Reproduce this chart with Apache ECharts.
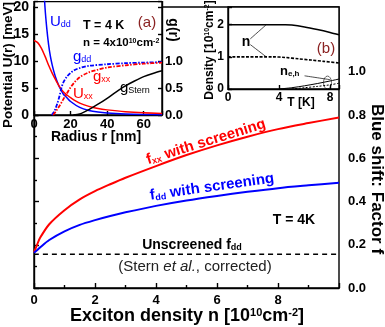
<!DOCTYPE html>
<html>
<head>
<meta charset="utf-8">
<script src="https://cdn.jsdelivr.net/npm/echarts@6/dist/echarts.min.js"></script>
<style>
html, body { margin: 0; padding: 0; background: #fff; }
#chart { width: 385px; height: 327px; }
</style>
</head>
<body>
<div id="chart"></div>
<script>
var FONT = '"Liberation Sans", Arial, Helvetica, sans-serif';
var RED = '#ff0000', BLUE = '#0000ff', DRED = '#8b2222';

// main panel: blue shift factor f vs exciton density n (1e10 cm^-2)
var nMain = [0, 0.1, 0.2, 0.5, 1, 1.5, 2, 2.5, 3, 4, 5, 6, 7, 8, 9, 10];
var fxx = [0.165, 0.2, 0.232, 0.295, 0.36, 0.41, 0.448, 0.48, 0.51, 0.564, 0.615, 0.66, 0.70, 0.735, 0.763, 0.789];
var fdd = [0.163, 0.175, 0.188, 0.222, 0.262, 0.292, 0.314, 0.333, 0.35, 0.38, 0.405, 0.426, 0.445, 0.462, 0.475, 0.487];
var nFlat = [0, 10];
var fUnscreened = [0.156, 0.156];

// inset (a): potentials U(r) [meV] and pair correlation g(r)
var rUdd = [5, 6, 7, 8, 9, 10, 11, 12, 13, 14, 16, 18, 20, 25, 30, 35, 40, 50, 60, 70];
var Udd = [26, 20, 16, 13, 10.8, 9.2, 7.9, 6.8, 5.9, 5.1, 3.9, 3.2, 2.5, 1.4, 0.85, 0.55, 0.38, 0.2, 0.1, 0.06];
var rUxx = [0, 2, 4, 6, 8, 10, 12, 14, 16, 18, 20, 25, 30, 35, 40, 50, 60, 70];
var Uxx = [13.8, 13.4, 12.4, 10.9, 9.2, 7.7, 6.4, 5.2, 4.3, 3.7, 3.2, 2.2, 1.6, 1.2, 0.95, 0.6, 0.4, 0.3];
var rGdd = [9.7, 11, 12, 13, 14, 15, 16, 18, 20, 22, 25, 30, 40, 50, 60, 70];
var gdd = [0, 0.06, 0.14, 0.24, 0.36, 0.5, 0.6, 0.71, 0.78, 0.83, 0.87, 0.91, 0.94, 0.96, 0.97, 0.98];
var rGxx = [10.5, 12, 14, 16, 18, 20, 22, 25, 30, 35, 40, 50, 60, 70];
var gxx = [0, 0.07, 0.17, 0.29, 0.40, 0.51, 0.6, 0.7, 0.79, 0.84, 0.88, 0.92, 0.95, 0.97];
var rStern = [21.5, 25, 30, 35, 40, 45, 50, 55, 60, 65, 70];
var gStern = [0, 0.02, 0.1, 0.2, 0.31, 0.43, 0.54, 0.63, 0.71, 0.77, 0.82];

// inset (b): densities vs temperature T [K]
var tN = [0, 4.5, 5, 6, 7, 8, 8.7];
var nSolid = [2.0, 2.0, 1.99, 1.93, 1.85, 1.76, 1.69];
var tNd = [0, 3.5, 4.5, 5.5, 6.5, 7.5, 8.7];
var nDash = [1.0, 1.0, 0.98, 0.94, 0.9, 0.86, 0.81];
var tEh = [4, 5, 6, 7, 8, 8.7];
var nEhSolid = [0, 0.04, 0.1, 0.17, 0.25, 0.31];
var tEhd = [5, 6, 7, 8, 8.7];
var nEhDash = [0, 0.04, 0.08, 0.13, 0.18];
// label pointers and the marker ellipse, in data units of inset (b)
var ptrT1 = [1.75, 3.0], ptrN1 = [1.56, 2.0];
var ptrT2 = [1.75, 3.0], ptrN2 = [1.38, 1.0];
var ptrT3 = [6.0, 8.0], ptrN3 = [0.41, 0.29];
var ovalT = [7.8], ovalN = [0.2];

function pairs(xs, ys) {
    var out = [];
    for (var i = 0; i < xs.length; i++) out.push([xs[i], ys[i]]);
    return out;
}

function curve(xi, yi, xs, ys, color, width, dash, z) {
    return {
        type: 'line', xAxisIndex: xi, yAxisIndex: yi, data: pairs(xs, ys),
        smooth: 0.3, showSymbol: false, symbol: 'none', z: z,
        lineStyle: { color: color, width: width, type: dash || 'solid' }
    };
}

// rich text: {n|..} normal, {s|..} subscript, {p|..} superscript
function rich(fs, color, weight) {
    return {
        n: { fontSize: fs, fontWeight: weight, fontFamily: FONT, fill: color, lineHeight: fs, verticalAlign: 'top' },
        i: { fontSize: fs, fontWeight: weight, fontStyle: 'italic', fontFamily: FONT, fill: color, lineHeight: fs, verticalAlign: 'top' },
        s: { fontSize: Math.round(fs * 0.62), fontWeight: weight, fontFamily: FONT, fill: color,
             lineHeight: Math.round(fs * 0.62), padding: [Math.round(fs * 0.6), 0, 0, 0], verticalAlign: 'bottom' },
        sn: { fontSize: Math.round(fs * 0.62), fontWeight: 'normal', fontFamily: FONT, fill: color,
             lineHeight: Math.round(fs * 0.62), padding: [Math.round(fs * 0.6), 0, 0, 0], verticalAlign: 'bottom' },
        p: { fontSize: Math.round(fs * 0.6), fontWeight: weight, fontFamily: FONT, fill: color,
             lineHeight: Math.round(fs * 0.6), verticalAlign: 'top' }
    };
}

function label(x, y, text, fs, color, weight, rot, align) {
    return {
        type: 'text', x: x, y: y, rotation: rot || 0, z: 20, silent: true,
        style: {
            text: text, rich: rich(fs, color, weight), fill: color,
            align: align || 'center', verticalAlign: 'middle'
        }
    };
}

function tickLabel(fs, margin) {
    return { color: '#000', fontWeight: 'bold', fontSize: fs, fontFamily: FONT, margin: margin };
}

var black = { color: '#000', width: 1.4 };

var chart = echarts.init(document.getElementById('chart'));
chart.setOption({
    animation: false,
    grid: [
        { left: 34, top: 7, width: 305, height: 281, show: true, borderColor: '#000', borderWidth: 1.4, z: 0 },
        { left: 34, top: 0, width: 128, height: 115, show: true, backgroundColor: '#fff', borderColor: '#000', borderWidth: 1.4, z: 5 },
        { left: 228, top: 7, width: 111, height: 82, show: true, backgroundColor: '#fff', borderColor: '#000', borderWidth: 1.4, z: 5 }
    ],
    xAxis: [
        {
            gridIndex: 0, type: 'value', min: 0, max: 10, interval: 2,
            axisLine: { show: true, lineStyle: black },
            axisTick: { inside: true, length: 5, lineStyle: black },
            minorTick: { show: true, splitNumber: 2, length: 3, lineStyle: black },
            splitLine: { show: false },
            axisLabel: Object.assign(tickLabel(13, 6), {
                formatter: function (v) { return v < 10 ? String(v) : ''; }
            })
        },
        {
            gridIndex: 1, type: 'value', min: 0, max: 70, interval: 20, z: 8,
            axisLine: { show: true, lineStyle: black },
            axisTick: { inside: true, length: 4, lineStyle: black },
            splitLine: { show: false },
            axisLabel: Object.assign(tickLabel(13, 3), {
                formatter: function (v) { return v % 20 === 0 ? String(v) : ''; }
            })
        },
        {
            gridIndex: 2, type: 'value', min: 0, max: 8.7, interval: 4, z: 8,
            axisLine: { show: true, lineStyle: black },
            axisTick: { inside: true, length: 4, lineStyle: black },
            splitLine: { show: false },
            axisLabel: Object.assign(tickLabel(12, 3), {
                formatter: function (v) { return v % 4 === 0 ? String(v) : ''; }
            })
        }
    ],
    yAxis: [
        {
            gridIndex: 0, type: 'value', position: 'right', min: 0, max: 1.3, interval: 0.2,
            axisLine: { show: true, lineStyle: black },
            axisTick: { inside: false, length: 5, lineStyle: black },
            minorTick: { show: true, splitNumber: 2, length: 3, lineStyle: black },
            splitLine: { show: false },
            axisLabel: Object.assign(tickLabel(13, 9), {
                formatter: function (v) { return v <= 1.0001 ? v.toFixed(1) : ''; }
            })
        },
        {
            gridIndex: 1, type: 'value', position: 'left', min: 0, max: 21, interval: 5, z: 8,
            axisLine: { show: true, lineStyle: black },
            axisTick: { inside: true, length: 4, lineStyle: black },
            splitLine: { show: false },
            axisLabel: Object.assign(tickLabel(14, 5), {
                formatter: function (v) { return v % 5 === 0 ? String(v) : ''; }
            })
        },
        {
            gridIndex: 1, type: 'value', position: 'right', min: 0, max: 2.1, interval: 0.5, z: 8,
            axisLine: { show: true, lineStyle: black },
            axisTick: { inside: true, length: 4, lineStyle: black },
            splitLine: { show: false },
            axisLabel: Object.assign(tickLabel(13, 3), {
                formatter: function (v) { return v <= 1.0001 ? v.toFixed(1) : ''; }
            })
        },
        {
            gridIndex: 2, type: 'value', position: 'left', min: 0, max: 2.55, interval: 1, z: 8,
            axisLine: { show: true, lineStyle: black },
            axisTick: { inside: true, length: 4, lineStyle: black },
            splitLine: { show: false },
            axisLabel: Object.assign(tickLabel(12, 4), {
                formatter: function (v) { return v % 1 === 0 ? String(v) : ''; }
            })
        }
    ],
    series: [
        curve(0, 0, nMain, fxx, RED, 2, 'solid', 2),
        curve(0, 0, nMain, fdd, BLUE, 2, 'solid', 2),
        curve(0, 0, nFlat, fUnscreened, '#000', 1.6, [5, 4], 2),

        curve(1, 1, rUdd, Udd, BLUE, 1.5, 'solid', 10),
        curve(1, 1, rUxx, Uxx, RED, 1.5, 'solid', 10),
        curve(1, 2, rGdd, gdd, BLUE, 1.8, [4, 1.5, 1.5, 1.5], 10),
        curve(1, 2, rGxx, gxx, RED, 1.8, [4, 1.5, 1.5, 1.5], 10),
        curve(1, 2, rStern, gStern, '#000', 1.5, 'solid', 10),

        curve(2, 3, tN, nSolid, '#000', 1.6, 'solid', 10),
        curve(2, 3, tNd, nDash, '#000', 1.6, [3, 1.5], 10),
        curve(2, 3, tEh, nEhSolid, '#000', 1.0, 'solid', 10),
        curve(2, 3, tEhd, nEhDash, '#000', 1.0, [2, 1.5], 10),
        curve(2, 3, ptrT1, ptrN1, '#000', 0.7, 'solid', 10),
        curve(2, 3, ptrT2, ptrN2, '#000', 0.7, 'solid', 10),
        curve(2, 3, ptrT3, ptrN3, '#000', 0.7, 'solid', 10),
        {
            type: 'scatter', xAxisIndex: 2, yAxisIndex: 3, data: pairs(ovalT, ovalN), z: 11,
            symbol: 'circle', symbolSize: [8, 13],
            itemStyle: { color: 'rgba(0,0,0,0)', borderColor: '#000', borderWidth: 0.7 }
        }
    ],
    graphic: [
        label(187, 316, '{n|Exciton density n [10}{p|10}{n|cm}{p|-2}{n|]}', 18, '#000', 'bold'),
        label(377, 179, '{n|Blue shift: Factor f}', 17, '#000', 'bold', -Math.PI / 2),
        label(206, 142, '{n|f}{s|xx}{n| with screening}', 15, RED, 'bold', 0.30),
        label(212, 187, '{n|f}{s|dd}{n| with screening}', 15, BLUE, 'bold', 0.14),
        label(294, 220, '{n|T = 4K}', 14, '#000', 'bold'),
        label(192, 245, '{n|Unscreened f}{s|dd}', 14, '#000', 'bold'),
        label(195, 267, '{n|(Stern }{i|et al.}{n|, corrected)}', 15, '#222', 'normal'),

        label(8, 65, '{n|Potential U(r) [meV]}', 13.5, '#000', 'bold', Math.PI / 2),
        label(173, 30, '{n|g(r)}', 14, '#000', 'bold', -Math.PI / 2),
        label(96, 137, '{n|Radius r [nm]}', 14, '#000', 'bold'),
        label(83, 25, '{n|T = 4 K}', 12.5, '#000', 'bold', 0, 'left'),
        label(83, 43, '{n|n = 4x10}{p|10}{n|cm}{p|-2}', 11.5, '#000', 'bold', 0, 'left'),
        label(147, 23, '{n|(a)}', 15, DRED, 'normal'),
        label(50, 22, '{n|U}{s|dd}', 15, BLUE, 'normal', 0, 'left'),
        label(73, 57, '{n|g}{s|dd}', 15, BLUE, 'normal', 0, 'left'),
        label(93, 77, '{n|g}{s|xx}', 15, RED, 'normal', 0, 'left'),
        label(73, 94, '{n|U}{s|xx}', 15, RED, 'normal', 0, 'left'),
        label(120, 88, '{n|g}{sn|Stern}', 15, '#000', 'normal', 0, 'left'),

        label(210, 50, '{n|Density [10}{p|10}{n|cm}{p|-2}{n|]}', 12, '#000', 'bold', Math.PI / 2),
        label(301, 103, '{n|T [K]}', 12, '#000', 'bold'),
        label(326, 49, '{n|(b)}', 15, DRED, 'normal'),
        label(246, 42, '{n|n}', 14, '#000', 'bold'),
        label(280, 71, '{n|n}{s|e,h}', 13, '#000', 'bold', 0, 'left')
    ]
});
</script>
</body>
</html>
